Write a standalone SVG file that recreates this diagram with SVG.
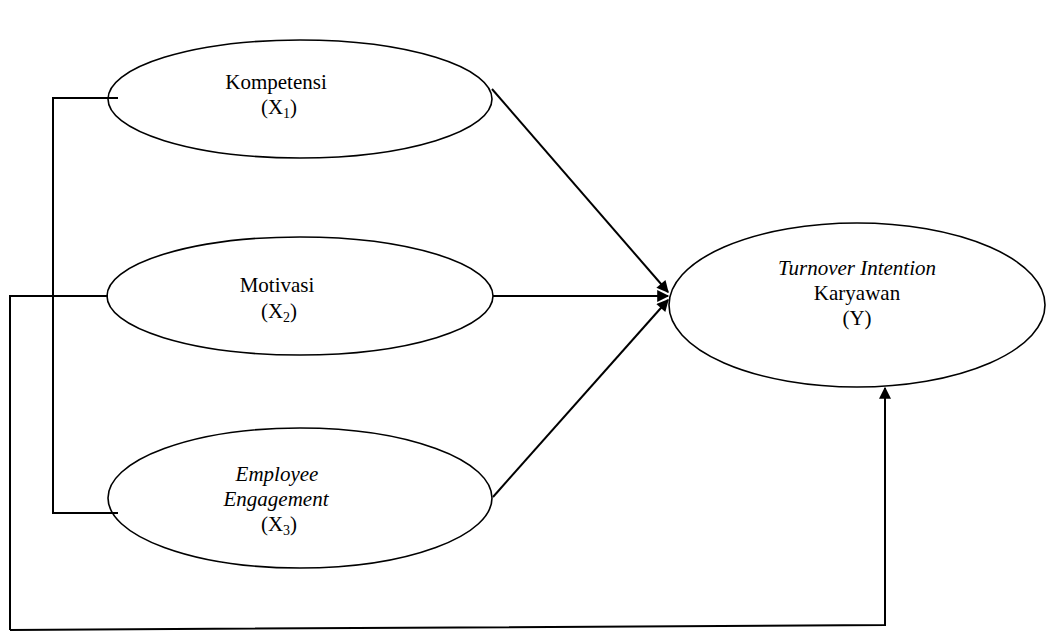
<svg xmlns="http://www.w3.org/2000/svg" width="1047" height="637" viewBox="0 0 1047 637">
<style>
.node ellipse{fill:#fff;stroke:#000;stroke-width:1.6}
.t{font-family:"Liberation Serif","Times New Roman",serif;font-size:21px;fill:#000;text-anchor:middle}
.i{font-style:italic}
.sub{font-size:14px}
.c{stroke:#000;stroke-width:2;fill:none}
</style>
<defs>
<marker id="ah" viewBox="0 0 10 10" refX="9" refY="5" markerWidth="7" markerHeight="6" markerUnits="strokeWidth" orient="auto">
<path d="M0,0 L10,5 L0,10 z" fill="#000"/>
</marker>
</defs>
<g id="kompetensi" class="node">
<ellipse cx="300" cy="99" rx="192" ry="59"/>
<text class="t" x="276" y="89">Kompetensi</text>
<text class="t" x="279" y="114">(X<tspan class="sub" dy="4">1</tspan><tspan dy="-4">)</tspan></text>
</g>
<g id="motivasi" class="node">
<ellipse cx="300" cy="296" rx="193" ry="59"/>
<text class="t" x="277" y="292">Motivasi</text>
<text class="t" x="279" y="318">(X<tspan class="sub" dy="4">2</tspan><tspan dy="-4">)</tspan></text>
</g>
<g id="engagement" class="node">
<ellipse cx="300" cy="498" rx="192" ry="70"/>
<text class="t i" x="277" y="481">Employee</text>
<text class="t i" x="276" y="506">Engagement</text>
<text class="t" x="279" y="531">(X<tspan class="sub" dy="4">3</tspan><tspan dy="-4">)</tspan></text>
</g>
<g id="turnover" class="node">
<ellipse cx="857" cy="305" rx="188" ry="82"/>
<text class="t i" x="857" y="275">Turnover Intention</text>
<text class="t" x="857" y="300">Karyawan</text>
<text class="t" x="857" y="325">(Y)</text>
</g>
<g id="connectors">
<polyline class="c" points="118,98 53,98 53,513 118,513"/>
<polyline class="c" points="108,296 10,296 10,630"/>
<polyline class="c" points="10,630 885,625 885,388" marker-end="url(#ah)"/>
<line class="c" x1="492" y1="89" x2="668" y2="292" marker-end="url(#ah)"/>
<line class="c" x1="493" y1="296" x2="668" y2="296" marker-end="url(#ah)"/>
<line class="c" x1="493" y1="497" x2="668" y2="300" marker-end="url(#ah)"/>
</g>
</svg>
